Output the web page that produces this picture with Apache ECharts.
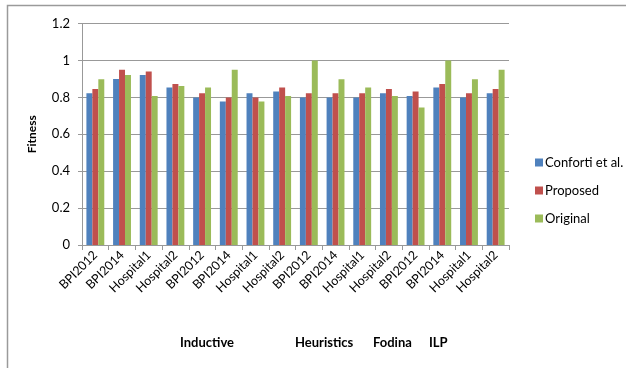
<!DOCTYPE html>
<html>
<head>
<meta charset="utf-8">
<script src="https://cdn.jsdelivr.net/npm/echarts@6/dist/echarts.min.js"></script>
<style>
  html, body { margin:0; padding:0; background:#fff; }
  #chart { width:626px; height:368px; }
</style>
</head>
<body>
<div id="chart"></div>
<script>
// ====== data ======
const categories = [
  'BPI2012','BPI2014','Hospital1','Hospital2',
  'BPI2012','BPI2014','Hospital1','Hospital2',
  'BPI2012','BPI2014','Hospital1','Hospital2',
  'BPI2012','BPI2014','Hospital1','Hospital2'
];
const conforti = [0.823,0.90,0.922,0.853, 0.80,0.778,0.823,0.832, 0.80,0.80,0.80,0.823, 0.808,0.853,0.80,0.823];
const proposed = [0.845,0.95,0.94,0.872, 0.823,0.80,0.80,0.853, 0.823,0.823,0.823,0.845, 0.832,0.872,0.823,0.845];
const original = [0.899,0.922,0.808,0.862, 0.853,0.95,0.778,0.808, 1.0,0.899,0.853,0.808, 0.745,1.0,0.899,0.95];
const groupLabels = ['Inductive','Heuristics','Fodina','ILP'];
const groupLabelX = [180, 295, 373, 429];

const FONT = 'Lato, "Open Sans", sans-serif';
const chart = echarts.init(document.getElementById('chart'), null, { renderer:'canvas' });

const mkSeries = (name, data, color) => ({
  name, type:'bar', data, barGap:'0%', barCategoryGap:'33%',
  itemStyle:{ color }
});

chart.setOption({
  animation:false,
  textStyle:{ fontFamily:FONT },
  grid:{ left:82, right:117, top:23.6, bottom:123 },
  legend:{
    orient:'vertical', left:530, top:151,
    itemWidth:8, itemHeight:8, itemGap:15, icon:'rect',
    textStyle:{ fontFamily:FONT, fontSize:13, color:'#000', padding:[0,0,0,-3] },
    data:['Conforti et al.','Proposed','Original']
  },
  xAxis:{
    type:'category', data:categories, boundaryGap:true,
    axisLine:{ lineStyle:{ color:'#999' } },
    axisTick:{ show:true, length:5, alignWithLabel:false, lineStyle:{ color:'#999' } },
    axisLabel:{ interval:0, rotate:45, fontSize:12.5, color:'#000', margin:8, fontFamily:FONT }
  },
  yAxis:{
    type:'value', min:0, max:1.2, interval:0.2,
    name:'Fitness', nameLocation:'middle', nameGap:44, nameRotate:90,
    nameTextStyle:{ fontFamily:FONT, fontSize:12, fontWeight:'bold', color:'#000' },
    axisLine:{ show:true, lineStyle:{ color:'#999' } },
    axisTick:{ show:true, length:4, lineStyle:{ color:'#999' } },
    axisLabel:{ fontSize:13, color:'#000', margin:12, fontFamily:FONT },
    splitLine:{ lineStyle:{ color:'#999' } }
  },
  series:[
    mkSeries('Conforti et al.', conforti, '#4F81BD'),
    mkSeries('Proposed', proposed, '#C0504D'),
    mkSeries('Original', original, '#9BBB59')
  ],
  graphic:[
    { type:'polyline', silent:true,
      shape:{ points:[[7.5,368],[7.5,5.5],[626,5.5]] },
      style:{ stroke:'#9a9a9a', lineWidth:1.5, fill:null } }
  ].concat(groupLabels.map((t,i)=>({
    type:'text', left:groupLabelX[i], top:336,
    style:{ text:t, font:'bold 13px ' + FONT, fill:'#000', textAlign:'center' }
  })))
});
</script>
</body>
</html>
